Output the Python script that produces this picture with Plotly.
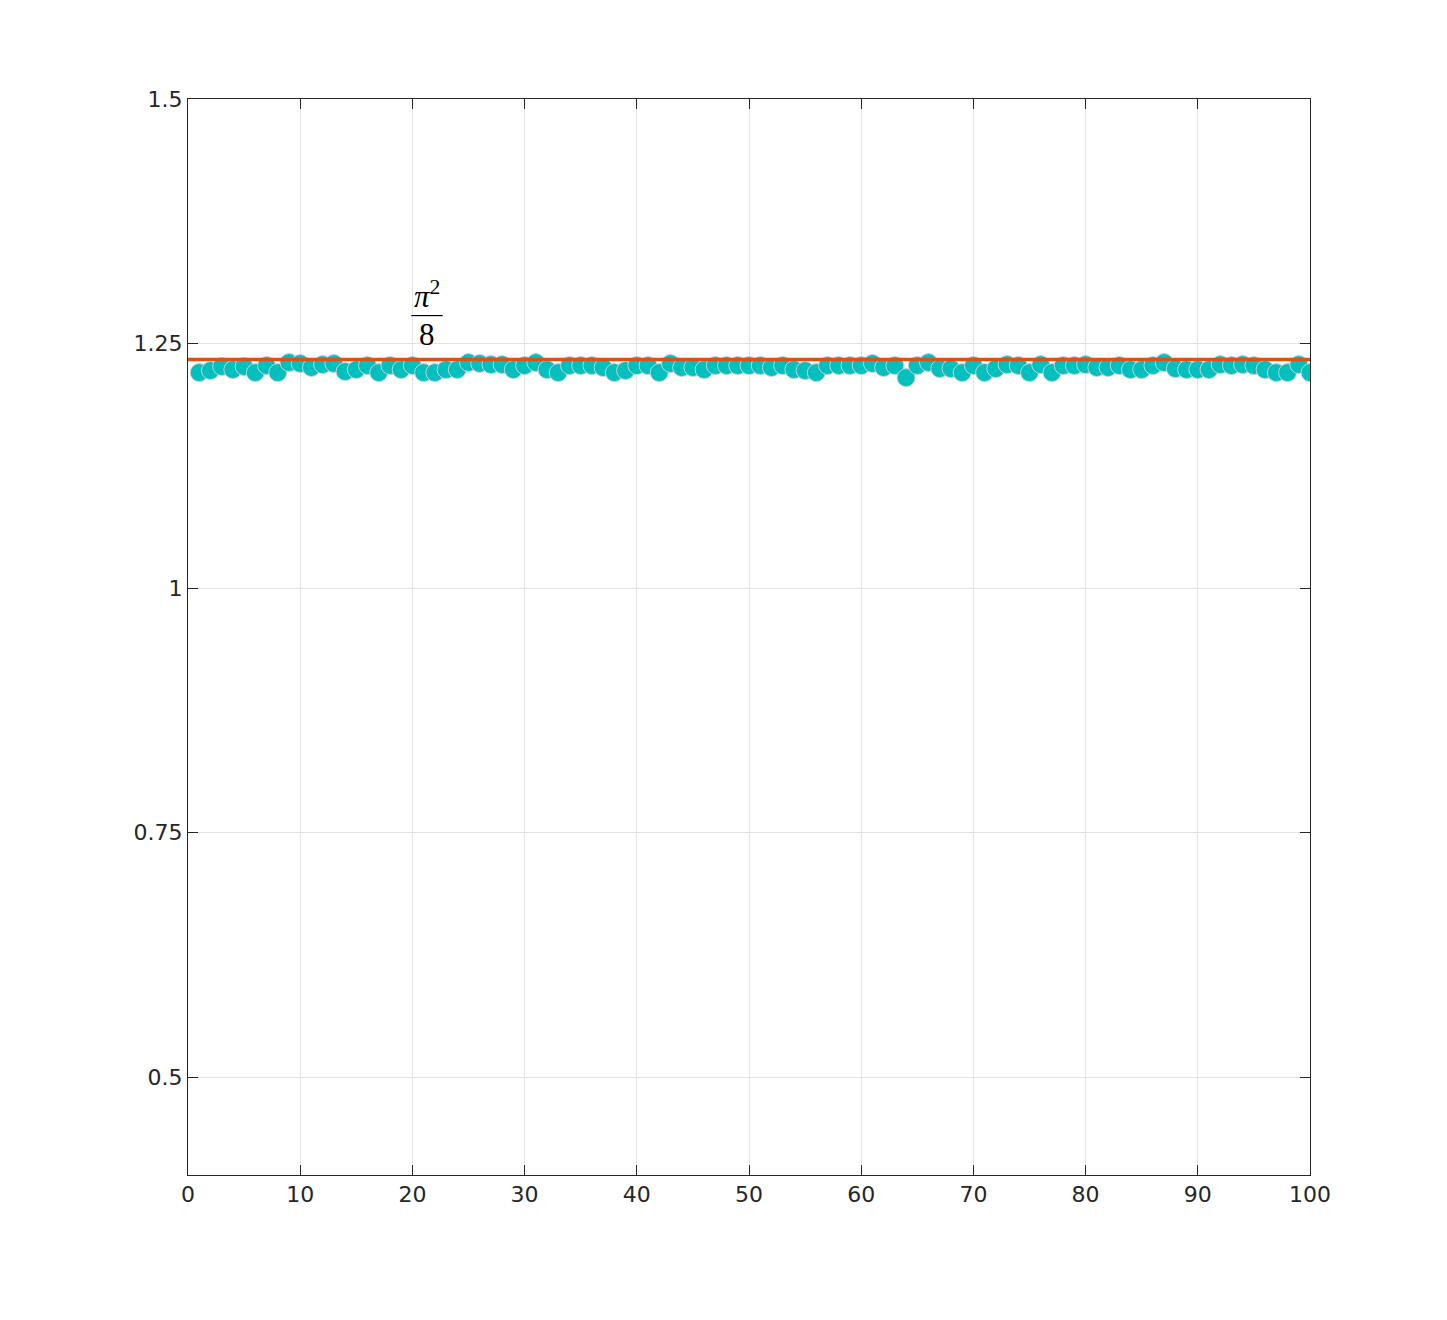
import plotly.graph_objects as go

# ratio estimates per trial
trial = list(range(1, 101))
estimate = [
    1.2203, 1.2224, 1.2265, 1.2234, 1.2265, 1.2203, 1.2275, 1.2203, 1.2306, 1.2296,
    1.2255, 1.2285, 1.2296, 1.2214, 1.2234, 1.2275, 1.2203, 1.2275, 1.2234, 1.2275,
    1.2203, 1.2203, 1.2234, 1.2234, 1.2306, 1.2296, 1.2285, 1.2285, 1.2234, 1.2275,
    1.2306, 1.2234, 1.2203, 1.2275, 1.2275, 1.2275, 1.2255, 1.2203, 1.2224, 1.2275,
    1.2275, 1.2203, 1.2296, 1.2255, 1.2255, 1.2234, 1.2275, 1.2275, 1.2275, 1.2275,
    1.2275, 1.2255, 1.2275, 1.2234, 1.2224, 1.2203, 1.2275, 1.2275, 1.2275, 1.2275,
    1.2296, 1.2255, 1.2275, 1.2152, 1.2275, 1.2306, 1.2244, 1.2244, 1.2203, 1.2275,
    1.2203, 1.2244, 1.2285, 1.2275, 1.2203, 1.2285, 1.2203, 1.2275, 1.2275, 1.2285,
    1.2255, 1.2255, 1.2275, 1.2234, 1.2234, 1.2275, 1.2306, 1.2244, 1.2234, 1.2234,
    1.2234, 1.2285, 1.2275, 1.2285, 1.2275, 1.2234, 1.2203, 1.2203, 1.2285, 1.2203,
]
target = 3.141592653589793 ** 2 / 8
x_range = [0, 100]

x_ticks = list(range(0, 101, 10))
y_ticks = [0.5, 0.75, 1, 1.25, 1.5]
y_labels = ["0.5", "0.75", "1", "1.25", "1.5"]

_MARKER = "#00bfbf"
_MARKER_EDGE = "#cfcfcf"
_LINE = "#d95319"
_AXIS = "#262626"
_GRID = "#e3e3e3"

fig = go.Figure()
fig.add_trace(go.Scatter(
    x=trial, y=estimate, mode="markers",
    marker=dict(size=18, color=_MARKER, line=dict(width=1, color=_MARKER_EDGE)),
    showlegend=False,
))
fig.add_trace(go.Scatter(
    x=x_range, y=[target, target], mode="lines",
    line=dict(color=_LINE, width=3.5),
    showlegend=False,
))

# pi^2 / 8 label as a stacked fraction
serif = dict(family="Liberation Serif, DejaVu Serif, serif", size=31, color="black")
fig.add_annotation(x=21.3, y=1.2786, text="<i>π</i><sup>2</sup>", showarrow=False,
                   font=serif, yanchor="bottom")
fig.add_annotation(x=21.3, y=1.2395, text="8", showarrow=False,
                   font=serif, yanchor="bottom")
fig.add_shape(type="line", x0=19.9, x1=22.7, y0=1.2786, y1=1.2786,
              line=dict(color="black", width=1.2))

axis_common = dict(
    showgrid=True, gridcolor=_GRID, gridwidth=1,
    showline=True, linecolor=_AXIS, linewidth=1, mirror="ticks",
    ticks="inside", ticklen=10, tickcolor=_AXIS,
    tickfont=dict(family="DejaVu Sans", size=22, color=_AXIS),
    zeroline=False,
)
fig.update_xaxes(range=x_range, tickvals=x_ticks, **axis_common)
fig.update_yaxes(range=[0.4, 1.5], tickvals=y_ticks, ticktext=y_labels, **axis_common)

# page body adds an 8 px offset, so the sizes are trimmed to match
fig.update_layout(
    width=1431, height=1304,
    margin=dict(l=180, r=129, t=91, b=137),
    plot_bgcolor="white", paper_bgcolor="white",
)
fig.write_html("out.html")
